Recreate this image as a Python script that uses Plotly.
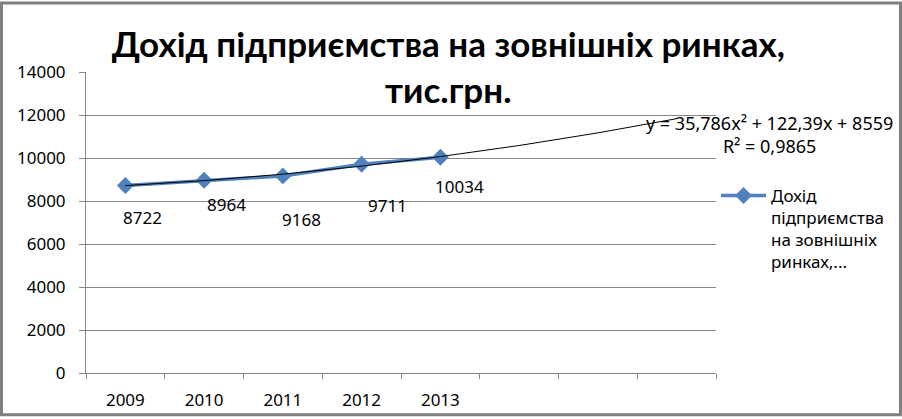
import numpy as np
import plotly.graph_objects as go

title_text = "Дохід підприємства на зовнішніх ринках,<br>тис.грн."
series_name = "Дохід<br>підприємства<br>на зовнішніх<br>ринках,..."
years = ["2009", "2010", "2011", "2012", "2013"]
forecast_slots = [" ", "  ", "   "]
values = [8722, 8964, 9168, 9711, 10034]
equation_text = "y = 35,786x² + 122,39x + 8559<br>R² = 0,9865"
y_ticks = [0, 2000, 4000, 6000, 8000, 10000, 12000, 14000]

categories = years + forecast_slots
idx = np.arange(1, len(years) + 1)
coef = np.polyfit(idx, values, 2)
idx_all = np.arange(1, len(categories) + 1)
trend = np.polyval(coef, idx_all)

W, H = 902, 423
ML, MR, MT, MB = 86, 186, 72, 44
PW, PH = W - ML - MR, H - MT - MB
BOTTOM = H - MB

BLUE = "#4F81BD"
GRID = "#868686"
FONT = "Noto Sans"

fig = go.Figure()
fig.add_trace(go.Scatter(
    x=years, y=values, mode="lines+markers", name=series_name,
    line=dict(color=BLUE, width=3.5),
    marker=dict(symbol="diamond", size=13, color=BLUE),
))
fig.add_trace(go.Scatter(
    x=categories, y=trend, mode="lines", showlegend=False,
    line=dict(color="black", width=1), hoverinfo="skip",
))

offsets = [(17, 32), (22, 24), (19, 44), (26, 41), (19, 29)]
for i, (v, (dx, dy)) in enumerate(zip(values, offsets)):
    fig.add_annotation(x=i, y=v, text=str(v), showarrow=False,
                       xshift=dx, yshift=-dy,
                       font=dict(family=FONT, size=17, color="black"))

fig.add_annotation(xref="paper", yref="paper",
                   x=(769 - ML) / PW, y=(BOTTOM - 136) / PH,
                   text=equation_text, showarrow=False, align="center",
                   xanchor="center", yanchor="middle",
                   font=dict(family=FONT, size=18, color="black"))

fig.add_shape(type="rect", xref="paper", yref="paper",
              x0=-(ML - 1.5) / PW, x1=1 + (MR - 1.5) / PW,
              y0=-(MB - 1.5) / PH, y1=1 + (MT - 1.5) / PH,
              line=dict(color="#808080", width=3), layer="above")

fig.update_layout(
    width=W, height=H,
    margin=dict(l=ML, r=MR, t=MT, b=MB, pad=0),
    paper_bgcolor="white", plot_bgcolor="white",
    title=dict(text=title_text, x=0.497, xanchor="center",
               y=1 - 57 / H, yanchor="middle", yref="container",
               font=dict(family="Lato, sans-serif", size=35, color="black", weight="bold")),
    showlegend=True,
    legend=dict(x=(716 - ML) / PW, y=(BOTTOM - 180) / PH, xanchor="left", yanchor="top",
                valign="top", itemwidth=45,
                font=dict(family=FONT, size=17, color="black"),
                bgcolor="rgba(0,0,0,0)", tracegroupgap=0),
    xaxis=dict(type="category", categoryorder="array", categoryarray=categories,
               range=[-0.5, len(categories) - 0.5],
               tickson="boundaries", ticks="outside", ticklen=5, tickcolor=GRID,
               showline=True, linecolor=GRID, linewidth=1, showgrid=False,
               tickfont=dict(family=FONT, size=17, color="black"),
               ticklabelstandoff=12),
    yaxis=dict(range=[0, 14000], tickvals=y_ticks, ticktext=[str(t) for t in y_ticks],
               ticks="outside", ticklen=6,
               tickcolor=GRID, showline=True, linecolor=GRID, linewidth=1,
               showgrid=True, gridcolor=GRID, gridwidth=1, zeroline=False,
               tickfont=dict(family=FONT, size=17, color="black"),
               ticklabelstandoff=10),
)

fig.write_html("out.html",
               config={"displayModeBar": False, "responsive": False},
               post_script="document.body.style.margin='0';document.body.style.overflow='hidden';")
